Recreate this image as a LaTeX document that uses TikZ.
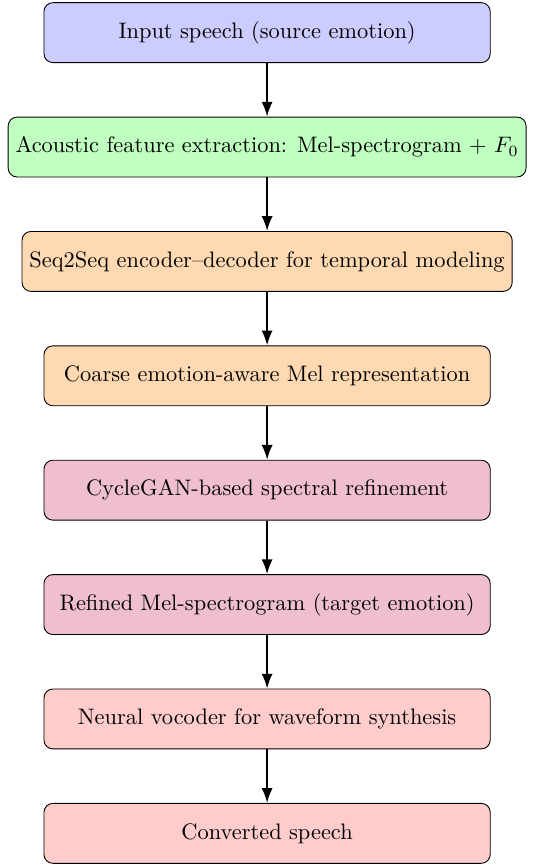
\documentclass[tikz,border=0pt]{standalone}
\usepackage{amsmath}
\usepackage{xcolor}
\usetikzlibrary{arrows.meta, positioning}

\begin{document}
\begin{tikzpicture}[
    node distance=0.84cm,
    box/.style={rectangle, draw, rounded corners, minimum width=7cm, minimum height=0.94cm, align=center},
    arrow/.style={-Latex, thick}
]

% Input and features
\node[box, fill=blue!20] (input) {Input speech (source emotion)};
\node[box, fill=green!25, below=of input] (feat) {Acoustic feature extraction: Mel-spectrogram + $F_0$};

% Seq2Seq stage
\node[box, fill=orange!30, below=of feat] (seq) {Seq2Seq encoder--decoder for temporal modeling};
\node[box, fill=orange!30, below=of seq] (coarse) {Coarse emotion-aware Mel representation};

% CycleGAN stage
\node[box, fill=purple!25, below=of coarse] (cycle) {CycleGAN-based spectral refinement};
\node[box, fill=purple!25, below=of cycle] (refined) {Refined Mel-spectrogram (target emotion)};

% Vocoder and output
\node[box, fill=red!20, below=of refined] (vocoder) {Neural vocoder for waveform synthesis};
\node[box, fill=red!20, below=of vocoder] (output) {Converted speech};

% Arrows
\draw[arrow] (input) -- (feat);
\draw[arrow] (feat) -- (seq);
\draw[arrow] (seq) -- (coarse);
\draw[arrow] (coarse) -- (cycle);
\draw[arrow] (cycle) -- (refined);
\draw[arrow] (refined) -- (vocoder);
\draw[arrow] (vocoder) -- (output);

\useasboundingbox ([xshift=-119.2pt,yshift=1pt]input.north) rectangle ([xshift=118.5pt,yshift=-1pt]output.south);

\end{tikzpicture}
\end{document}
